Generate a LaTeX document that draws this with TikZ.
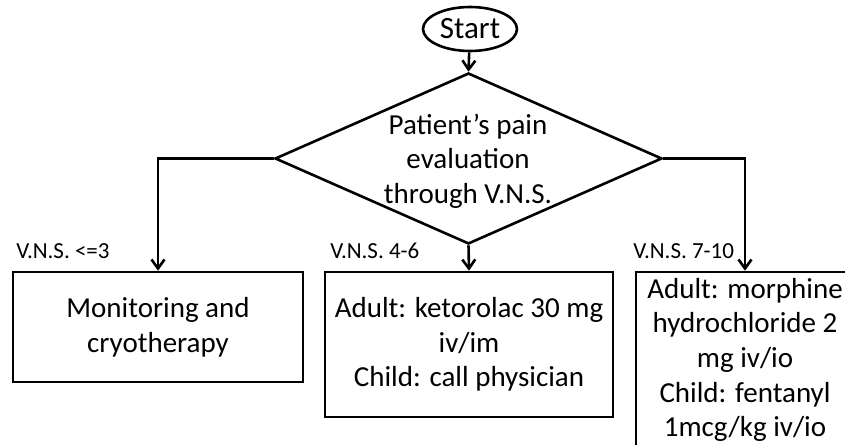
\documentclass[tikz,border=0pt]{standalone}
\usepackage{fontspec}
\setmainfont{Carlito}
\usetikzlibrary{shapes.geometric,arrows.meta}
\begin{document}
\begin{tikzpicture}[x=1pt,y=-1pt,
  line width=2.6pt,
  txt/.style={font=\fontsize{29}{34.7}\selectfont},
  conn/.style={-{Straight Barb[length=9pt,width=13pt]}},
  box/.style={draw, rectangle, inner sep=0pt, align=center, txt},
  lbl/.style={font=\fontsize{23}{26}\selectfont, anchor=base west, inner sep=0pt}
]
\useasboundingbox (0,0) rectangle (845,444);

% start terminal and decision
\node[draw, ellipse, minimum width=94pt, minimum height=44pt, inner sep=0pt, font=\fontsize{31}{36}\selectfont] (start) at (470,29) {Start};
\node[draw, diamond, minimum width=387pt, minimum height=171pt, inner sep=0pt] (dec) at (468.5,158.5) {};
\node[align=center, inner sep=0pt, txt] (dectext) at (468,161) {Patient’s pain\\evaluation\\through V.N.S.};

% outcome boxes
\node[box, minimum width=290pt, minimum height=110pt] (low) at (158,327) {Monitoring and\\cryotherapy};
\node[box, minimum width=288pt, minimum height=145pt] (mid) at (469,344.5) {Adult: ketorolac 30 mg\\iv/im\\Child: call physician};
\node[box, minimum width=218pt, minimum height=176pt] (high) at (745,360) {Adult: morphine\\hydrochloride 2\\mg iv/io\\Child: fentanyl\\1mcg/kg iv/io};

% branch labels
\node[lbl] (lowlbl) at (15,258) {V.N.S. <=3};
\node[lbl] (midlbl) at (329,258) {V.N.S. 4-6};
\node[lbl] (highlbl) at (632,258) {V.N.S. 7-10};

% connectors
\draw[conn] (start) -- (dec.north);
\draw[conn] (dec.west) -| (low.north);
\draw[conn] (dec.south) -- (mid.north);
\draw[conn] (dec.east) -| (high.north);
\end{tikzpicture}
\end{document}
